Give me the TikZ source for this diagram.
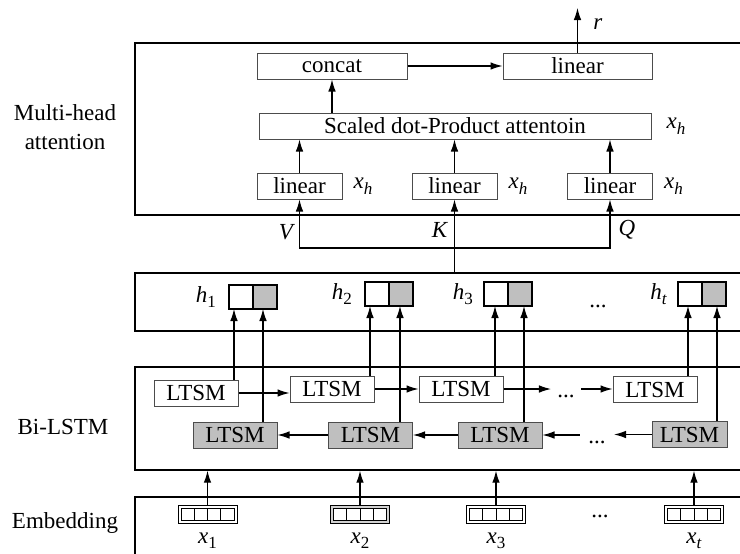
\documentclass[tikz,border=0pt]{standalone}
\usepackage{fontspec}
\setmainfont{Liberation Serif}
\usetikzlibrary{shapes,arrows.meta,positioning,calc}
\newcommand{\sv}[2]{\textit{#1}\raisebox{-0.55ex}{\fontsize{8.5}{8.5}\selectfont #2}}

\begin{document}
\begin{tikzpicture}[
  x=0.5pt,y=-0.5pt,
  font=\fontsize{11.5}{13.5}\selectfont,
  >={Latex[length=6pt,width=3.8pt]},
  layerbox/.style={rectangle,draw,line width=0.7pt,minimum width=307.5pt,inner sep=0pt},
  box/.style={rectangle,draw=black!70,line width=0.5pt,fill=white,minimum height=13pt,inner sep=0pt},
  lstm/.style={box,minimum width=42pt},
  hcell/.style={rectangle,draw,line width=0.6pt,minimum size=12pt,inner sep=0pt,outer sep=0pt},
  vec/.style={rectangle,draw,line width=0.5pt,minimum width=29.5pt,minimum height=9pt,inner sep=0pt},
  vecin/.style={rectangle,draw,line width=0.5pt,fill=white,minimum width=26.5pt,minimum height=6pt,inner sep=0pt,
    path picture={
      \draw[line width=0.5pt] ($(path picture bounding box.south west)!0.25!(path picture bounding box.south east)$) -- ++(0,-20);
      \draw[line width=0.5pt] ($(path picture bounding box.south west)!0.5!(path picture bounding box.south east)$) -- ++(0,-20);
      \draw[line width=0.5pt] ($(path picture bounding box.south west)!0.75!(path picture bounding box.south east)$) -- ++(0,-20);
    }},
  dotsnode/.style={inner xsep=3pt,inner ysep=0pt,text height=8pt,text depth=0pt},
  link/.style={line width=0.6pt},
]
\useasboundingbox (0,0) rectangle (740,553);

% Multi-head attention
\node[layerbox,minimum height=86pt] (mha) at (442.5,129) {};
\node[align=center,font=\fontsize{11.5}{14.5}\selectfont] (mhalab) at (65,127.5) {Multi-head\\attention};
\node[box,minimum width=75pt] (cat) at (332,66) {concat};
\node[box,minimum width=74.5pt] (out) at (577.5,66) {linear};
\node[box,minimum width=196pt] (sdp) at (455,126) {Scaled dot-Product attentoin};
\node[box,minimum width=42.5pt] (lin1) at (299.5,186) {linear};
\node[box,minimum width=42.5pt] (lin2) at (454.5,186) {linear};
\node[box,minimum width=42.5pt] (lin3) at (610,186) {linear};
\node[right=2pt of lin1] (xh1) {\sv{x}{\textit{h}}};
\node[right=2pt of lin2] (xh2) {\sv{x}{\textit{h}}};
\node[right=2pt of lin3] (xh3) {\sv{x}{\textit{h}}};
\node[right=4pt of sdp] (xh4) {\sv{x}{\textit{h}}};
\coordinate (rtip) at (577.5,8);
\node (rlab) at (598,24) {\textit{r}};

\draw[link,->] (lin1.north) -- (lin1.north |- sdp.south);
\draw[link,->] (lin2.north) -- (lin2.north |- sdp.south);
\draw[link,->] (lin3.north) -- (lin3.north |- sdp.south);
\draw[link,->] (sdp.north -| cat) -- (cat.south);
\draw[link,->] (cat) -- (out);
\draw[link,->] (out) -- (rtip);

% Hidden states
\node[layerbox,minimum height=29pt] (hid) at (442.5,302) {};
\node[hcell,fill=white] (hf1) at (241,297) {};
\node[hcell,fill=gray!50,anchor=west] (hb1) at (hf1.east) {};
\node[hcell,fill=white] (hf2) at (377,294) {};
\node[hcell,fill=gray!50,anchor=west] (hb2) at (hf2.east) {};
\node[hcell,fill=white] (hf3) at (496,294) {};
\node[hcell,fill=gray!50,anchor=west] (hb3) at (hf3.east) {};
\node[hcell,fill=white] (hft) at (690,294) {};
\node[hcell,fill=gray!50,anchor=west] (hbt) at (hft.east) {};
\node[left=3pt of hf1] (hl1) {\sv{h}{1}};
\node[left=3pt of hf2] (hl2) {\sv{h}{2}};
\node[left=2pt of hf3] (hl3) {\sv{h}{3}};
\node[left=2pt of hft] (hlt) {\sv{h}{\textit{t}}};
\node[dotsnode] (hdots) at (598,299) {...};

% V, K, Q inputs
\coordinate (vkq) at (454.5,248);
\draw[link,->] (hid.north -| lin2) -- (lin2.south);
\draw[link,->] (vkq) -| (lin1.south);
\draw[link,->] (vkq) -| (lin3.south);
\node (vlab) at (287,232) {\textit{V}};
\node (klab) at (440,230) {\textit{K}};
\node (qlab) at (627,230) {\textit{Q}};

% Bi-LSTM
\node[layerbox,minimum height=51.5pt] (bil) at (442.5,418.5) {};
\node (bilab) at (63,427) {Bi-LSTM};
\node[lstm] (fw1) at (196,393) {LTSM};
\node[lstm] (fw2) at (332,389) {LTSM};
\node[lstm] (fw3) at (461,389) {LTSM};
\node[lstm] (fw4) at (655,389.5) {LTSM};
\node[dotsnode] (fdots) at (566,389) {...};
\node[lstm,fill=gray!50] (bw1) at (235,435) {LTSM};
\node[lstm,fill=gray!50] (bw2) at (370.5,435) {LTSM};
\node[lstm,fill=gray!50] (bw3) at (500,435) {LTSM};
\node[lstm,fill=gray!50,minimum width=37.5pt] (bw4) at (689.5,434.5) {LTSM};
\node[dotsnode,inner xsep=4pt] (bdots) at (597,435) {...};

\draw[link,->] (fw1.east) -- (fw1.east -| fw2.west);
\draw[link,->] (fw2.east) -- (fw2.east -| fw3.west);
\draw[link,->] (fw3.east) -- (fdots.west);
\draw[link,->] (fdots.east) -- (fdots.east -| fw4.west);
\draw[link,->] (bw4.west) -- (bw4.west -| bdots.east);
\draw[link,->] (bdots.west) -- (bdots.west -| bw3.east);
\draw[link,->] (bw3.west) -- (bw3.west -| bw2.east);
\draw[link,->] (bw2.west) -- (bw2.west -| bw1.east);

% Bi-LSTM to hidden states
\coordinate (ua1) at ([xshift=-3.5pt]hf1.south);
\coordinate (ua2) at ([xshift=-3.5pt]hf2.south);
\coordinate (ua3) at ([xshift=-0.5pt]hf3.south);
\coordinate (uat) at ([xshift=-1pt]hft.south);
\coordinate (ub1) at ([xshift=-1pt]hb1.south);
\coordinate (ub2) at ([xshift=-0.5pt]hb2.south);
\coordinate (ub3) at ([xshift=2pt]hb3.south);
\coordinate (ubt) at ([xshift=1.5pt]hbt.south);
\draw[link,->] (fw1.north -| ua1) -- (ua1);
\draw[link,->] (fw2.north -| ua2) -- (ua2);
\draw[link,->] (fw3.north -| ua3) -- (ua3);
\draw[link,->] (fw4.north -| uat) -- (uat);
\draw[link,->] (bw1.north -| ub1) -- (ub1);
\draw[link,->] (bw2.north -| ub2) -- (ub2);
\draw[link,->] (bw3.north -| ub3) -- (ub3);
\draw[link,->] (bw4.north -| ubt) -- (ubt);

% Embedding
\node[layerbox,minimum height=31.5pt] (emb) at (442.5,528.5) {};
\node (emblab) at (65,523) {Embedding};
\node[vec] (e1) at (207.5,514) {};
\node[vec,fill=gray!35] (e2) at (360,514) {};
\node[vec] (e3) at (496,514) {};
\node[vec] (e4) at (694,514) {};
\node[vecin] (c1) at (e1) {};
\node[vecin] (c2) at (e2) {};
\node[vecin] (c3) at (e3) {};
\node[vecin] (c4) at (e4) {};
\node[below=1pt of e1] (x1) {\sv{x}{1}};
\node[below=1pt of e2] (x2) {\sv{x}{2}};
\node[below=1pt of e3] (x3) {\sv{x}{3}};
\node[below=1pt of e4] (xt) {\sv{x}{\textit{t}}};
\node[dotsnode] (edots) at (600,509) {...};

\draw[link,->] (e1.north) -- (e1.north |- bil.south);
\draw[link,->] (e2.north) -- (e2.north |- bil.south);
\draw[link,->] (e3.north) -- (e3.north |- bil.south);
\draw[link,->] (e4.north) -- (e4.north |- bil.south);

\end{tikzpicture}
\end{document}
